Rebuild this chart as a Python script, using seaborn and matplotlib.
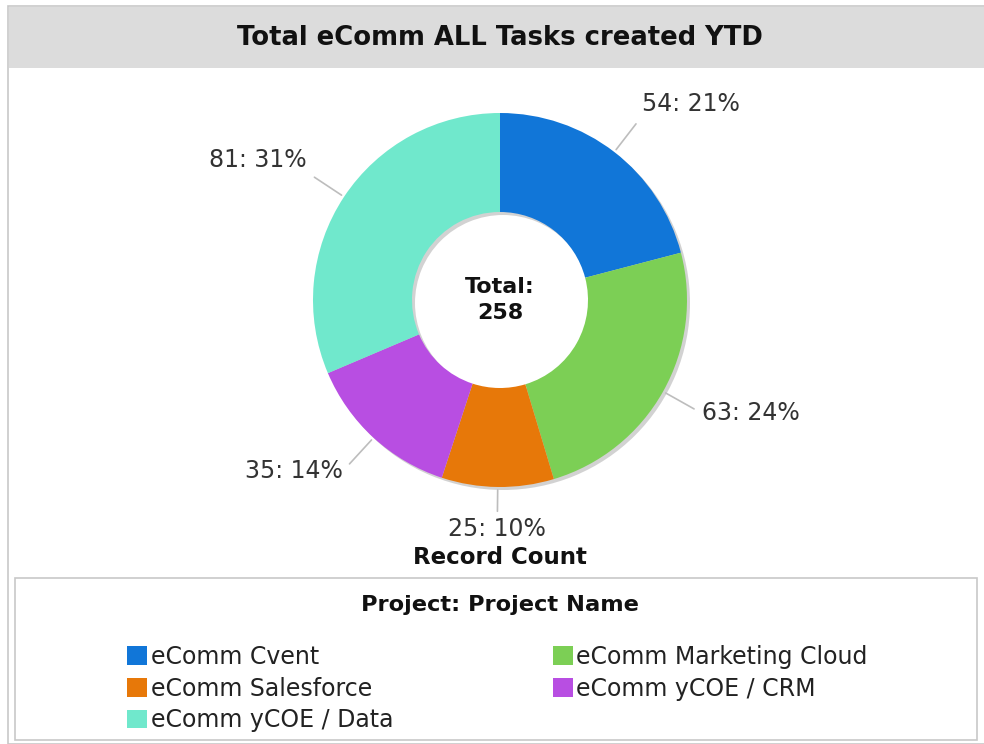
import numpy as np
import matplotlib
matplotlib.use("Agg")
import matplotlib.pyplot as plt
from matplotlib.patches import Rectangle, Patch
import seaborn as sns

# Chart data
projects = ["eComm Cvent", "eComm Marketing Cloud", "eComm Salesforce",
            "eComm yCOE / CRM", "eComm yCOE / Data"]
counts = [54, 63, 25, 35, 81]
colors = ["#1176d8", "#7ccf55", "#e77809", "#b84ee2", "#70e8cc"]
title = "Total eComm ALL Tasks created YTD"
legend_title = "Project: Project Name"
measure = "Record Count"

sns.set_theme(style="white")
plt.rcParams["font.family"] = ["DejaVu Sans"]

W, H = 984, 744
fig = plt.figure(figsize=(W / 100, H / 100), dpi=100)
ax = fig.add_axes([0, 0, 1, 1])

def Y(y):
    # pixel row -> data y (y axis points up)
    return H - y

cx, cy, R = 500, Y(300), 187
ring = 99
total = sum(counts)

# panel + title bar
ax.add_patch(Rectangle((8, Y(744)), W, 738, facecolor="white", edgecolor="#c8c8c8", lw=1.2, zorder=0))
ax.add_patch(Rectangle((8.6, Y(68)), W, 61, facecolor="#dcdcdc", edgecolor="none", zorder=1))
ax.text(500, Y(38), title, ha="center", va="center", fontsize=18.6, fontweight="bold", color="#111111")

# shadow ring under the donut
ax.pie([total], colors=["#d2d2d2"], radius=R, center=(cx + 3, cy - 3),
       wedgeprops=dict(width=ring, edgecolor="none"), frame=True)

wedges, _ = ax.pie(counts, colors=colors, startangle=90, counterclock=False,
                   radius=R, center=(cx, cy),
                   wedgeprops=dict(width=ring, edgecolor="none"), frame=True)

# slice labels with leader lines
for w, n in zip(wedges, counts):
    ang = np.deg2rad((w.theta1 + w.theta2) / 2)
    c, s = np.cos(ang), np.sin(ang)
    bottom = s < -0.9
    x0, y0 = cx + (R + 3) * c, cy + (R + 3) * s
    r1 = 1.13 if bottom else 1.19
    x1, y1 = cx + R * r1 * c, cy + R * r1 * s
    ax.plot([x0, x1], [y0, y1], color="#bdbdbd", lw=1.2, zorder=3)
    r2 = 1.16 if bottom else 1.24
    tx, ty = cx + R * r2 * c, cy + R * r2 * s
    ha = "left" if c > 0.1 else ("right" if c < -0.1 else "center")
    va = "bottom" if s > 0.5 else ("top" if bottom else "center")
    ax.text(tx, ty, f"{n}: {round(100 * n / total)}%", ha=ha, va=va,
            fontsize=17, color="#333333")

ax.text(cx, cy, f"Total:\n{total}", ha="center", va="center", fontsize=16,
        fontweight="bold", color="#111111", linespacing=1.35)
ax.text(500, Y(558), measure, ha="center", va="center", fontsize=16.5,
        fontweight="bold", color="#111111")

# legend box
ax.add_patch(Rectangle((15, Y(740)), 962, 162, facecolor="white", edgecolor="#c8c8c8", lw=1.2, zorder=1))
ax.text(500, Y(605), legend_title, ha="center", va="center", fontsize=16.2,
        fontweight="bold", color="#111111")

order = [0, 2, 4, 1, 3]
handles = [Patch(facecolor=colors[i], edgecolor="none") for i in order]
labels = [projects[i] for i in order]
ax.legend(handles, labels, ncol=2, loc="upper left", bbox_to_anchor=(127, Y(645)),
          bbox_transform=ax.transData, frameon=False, fontsize=17, borderpad=0,
          borderaxespad=0, handlelength=0.85, handleheight=0.85, handletextpad=0.15,
          labelspacing=0.32, columnspacing=6.76, labelcolor="#222222")

ax.set_xlim(0, W)
ax.set_ylim(0, H)
ax.set_aspect("equal")
ax.axis("off")

fig.savefig("out.png", dpi=100)
